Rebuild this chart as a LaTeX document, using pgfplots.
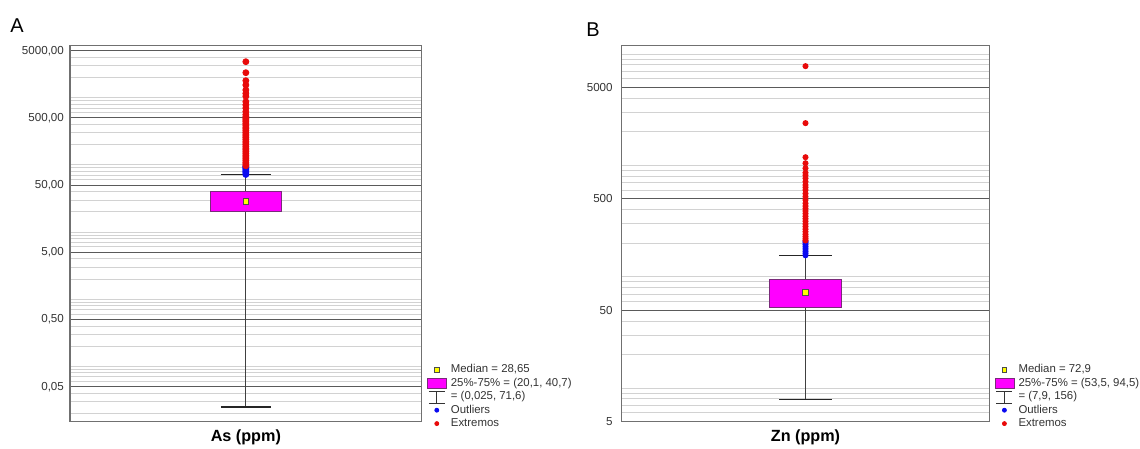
\documentclass[border=0pt]{standalone}
\usepackage{fontspec}
\setmainfont{Liberation Sans}
\usepackage{pgfplots}
\pgfplotsset{compat=1.18}
\definecolor{axgray}{HTML}{707070}
\definecolor{majgray}{HTML}{5A5A5A}
\definecolor{mingray}{HTML}{D2D2D2}
\definecolor{labgray}{HTML}{333333}
\definecolor{boxedge}{HTML}{7A2A7A}
\definecolor{boxfill}{HTML}{FF00FF}
\definecolor{medfill}{HTML}{FFFF00}
\definecolor{outblue}{HTML}{0A0AF0}
\definecolor{extred}{HTML}{E80A0A}
\definecolor{whisk}{HTML}{404040}
\pgfplotsset{
  every axis/.append style={
    scale only axis, xmin=0, xmax=1, xtick=\empty,
    axis line style={color=axgray, line width=0.6pt},
    ymajorgrids, yminorgrids,
    major grid style={color=majgray, line width=0.5pt},
    minor grid style={color=mingray, line width=0.5pt},
    major tick style={draw=none}, minor tick style={draw=none},
    yticklabel style={font=\fontsize{5.8}{6.5}\selectfont, text=labgray, inner sep=0pt, anchor=east},
    xlabel style={font=\bfseries\fontsize{8.1}{9}\selectfont, at={(axis description cs:0.5,0)}, anchor=center, yshift=-7.65pt},
    legend style={draw=none, fill=none, font=\fontsize{5.7}{6.5}\selectfont, text=labgray,
      inner sep=0pt, outer sep=0pt, row sep=0pt, column sep=1.6pt,
      cells={anchor=west},
      nodes={inner sep=0.5pt, text height=4.4pt, text depth=1.3pt},
      at={(1,0)}, anchor=south west, xshift=2.6pt, yshift=-4.3pt},
    legend cell align=left,
  },
}
\newcommand{\medimg}{\addlegendimage{legend image code/.code={\draw[fill=medfill, draw=black!70, line width=0.4pt] (3.55pt,-1.2pt) rectangle (5.95pt,1.2pt);}}}
\newcommand{\boximg}{\addlegendimage{legend image code/.code={\draw[fill=boxfill, draw=boxedge, line width=0.4pt] (0pt,-2.5pt) rectangle (9.5pt,2.5pt);}}}
\newcommand{\whiskimg}{\addlegendimage{legend image code/.code={\draw[black!80, line width=0.4pt] (0.75pt,2.3pt) -- (8.75pt,2.3pt) (4.75pt,2.3pt) -- (4.75pt,-3.3pt) (0.75pt,-3.3pt) -- (8.75pt,-3.3pt);}}}
\newcommand{\outimg}{\addlegendimage{legend image code/.code={\fill[outblue] (4.75pt,0pt) circle (1pt);}}}
\newcommand{\extimg}{\addlegendimage{legend image code/.code={\fill[extred] (4.75pt,0pt) circle (1pt);}}}
\begin{document}
\begin{tikzpicture}
\useasboundingbox (0,0) rectangle (570pt,224.5pt);
\node[font=\fontsize{10}{12}\selectfont] at (8.5pt,211.5pt) {A};
\node[font=\fontsize{10}{12}\selectfont] at (296.5pt,209.5pt) {B};
% ---------------- Panel A ----------------
\begin{axis}[ymode=log,
  at={(35pt,13.65pt)}, anchor=south west,
  width=175.85pt, height=188pt,
  ymin=0.01507, ymax=5940,
  ytick={0.05,0.5,5,50,500,5000},
  yticklabels={{0,05},{0,50},{5,00},{50,00},{500,00},{5000,00}},
  yticklabel style={xshift=-2.85pt},
  minor ytick={0.02,0.03,0.04,0.06,0.07,0.08,0.09,0.1,0.2,0.3,0.4,0.6,0.7,0.8,0.9,1,2,3,4,6,7,8,9,10,20,30,40,60,70,80,90,100,200,300,400,600,700,800,900,1000,2000,3000,4000},
  xlabel={As (ppm)},
]
\addplot[forget plot, draw=whisk, line width=0.5pt] coordinates {(0.5,0.025) (0.5,71.6)};
\addplot[forget plot, draw=black!85, line width=0.6pt] coordinates {(0.4288,71.6) (0.5712,71.6)};
\addplot[forget plot, draw=black!85, line width=0.6pt] coordinates {(0.4288,0.025) (0.5712,0.025)};
\addplot[forget plot, fill=boxfill, draw=boxedge, line width=0.5pt] coordinates {(0.4,20.1) (0.6,20.1) (0.6,40.7) (0.4,40.7)} -- cycle;
\addplot[forget plot, only marks, mark=square*, mark size=1.4pt, mark options={fill=medfill, draw=black!70, line width=0.4pt}] coordinates {(0.5,28.65)};
\addplot[forget plot, only marks, mark=*, mark size=1.5pt, color=outblue] coordinates {
(0.5,72) (0.5,76) (0.5,80) (0.5,84) (0.5,88) (0.5,92) (0.5,95)};
\addplot[forget plot, only marks, mark=*, mark size=1.5pt, color=extred] coordinates {
(0.5,97) (0.5,103) (0.5,109) (0.5,116) (0.5,123) (0.5,131) (0.5,139) (0.5,148) (0.5,157) (0.5,167)
(0.5,177) (0.5,188) (0.5,200) (0.5,212) (0.5,225) (0.5,240) (0.5,255) (0.5,270) (0.5,287) (0.5,305)
(0.5,325) (0.5,345) (0.5,365) (0.5,390) (0.5,415) (0.5,440) (0.5,465) (0.5,490) (0.5,520) (0.5,560)
(0.5,620) (0.5,700) (0.5,780) (0.5,870) (0.5,1050) (0.5,1160) (0.5,1300) (0.5,1545) (0.5,1790)
(0.5,2355) (0.5,3430)};
\medimg\addlegendentry{Median = 28,65}
\boximg\addlegendentry{25\%-75\% = (20,1, 40,7)}
\whiskimg\addlegendentry{= (0,025, 71,6)}
\outimg\addlegendentry{Outliers}
\extimg\addlegendentry{Extremos}
\end{axis}
% ---------------- Panel B ----------------
\begin{axis}[ymode=log,
  at={(310.85pt,13.65pt)}, anchor=south west,
  width=183.8pt, height=188pt,
  ymin=5, ymax=11900,
  ytick={5,50,500,5000},
  yticklabels={5,50,500,5000},
  yticklabel style={xshift=-4.35pt},
  minor ytick={6,7,8,9,10,20,30,40,60,70,80,90,100,200,300,400,600,700,800,900,1000,2000,3000,4000,6000,7000,8000,9000,10000},
  xlabel={Zn (ppm)},
]
\addplot[forget plot, draw=whisk, line width=0.5pt] coordinates {(0.5,7.9) (0.5,156)};
\addplot[forget plot, draw=black!85, line width=0.6pt] coordinates {(0.429,156) (0.571,156)};
\addplot[forget plot, draw=black!85, line width=0.6pt] coordinates {(0.429,7.9) (0.571,7.9)};
\addplot[forget plot, fill=boxfill, draw=boxedge, line width=0.5pt] coordinates {(0.402,53.5) (0.598,53.5) (0.598,94.5) (0.402,94.5)} -- cycle;
\addplot[forget plot, only marks, mark=square*, mark size=1.4pt, mark options={fill=medfill, draw=black!70, line width=0.4pt}] coordinates {(0.5,72.9)};
\addplot[forget plot, only marks, mark=*, mark size=1.3pt, color=outblue] coordinates {
(0.5,156) (0.5,163) (0.5,170) (0.5,178) (0.5,186) (0.5,194) (0.5,202) (0.5,208)};
\addplot[forget plot, only marks, mark=*, mark size=1.3pt, color=extred] coordinates {
(0.5,212) (0.5,220) (0.5,230) (0.5,241) (0.5,254) (0.5,268) (0.5,283) (0.5,298) (0.5,315) (0.5,332)
(0.5,350) (0.5,370) (0.5,390) (0.5,410) (0.5,432) (0.5,457) (0.5,490) (0.5,525) (0.5,560) (0.5,602)
(0.5,635) (0.5,668) (0.5,715) (0.5,767) (0.5,815) (0.5,861) (0.5,944) (0.5,1047) (0.5,1186)
(0.5,2400) (0.5,7800)};
\medimg\addlegendentry{Median = 72,9}
\boximg\addlegendentry{25\%-75\% = (53,5, 94,5)}
\whiskimg\addlegendentry{= (7,9, 156)}
\outimg\addlegendentry{Outliers}
\extimg\addlegendentry{Extremos}
\end{axis}
\end{tikzpicture}
\end{document}
